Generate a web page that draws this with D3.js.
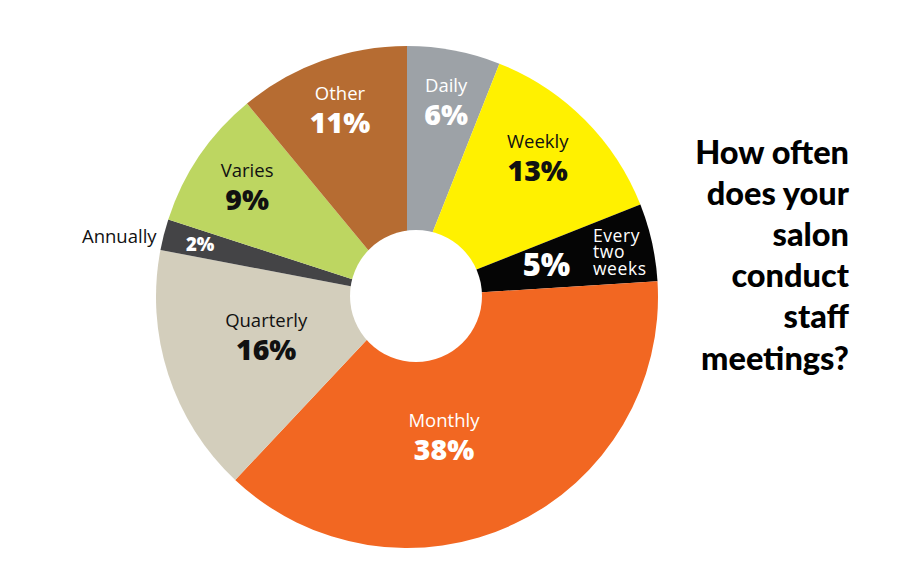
<!DOCTYPE html>
<html>
<head>
<meta charset="utf-8">
<script src="https://cdn.jsdelivr.net/npm/d3@7"></script>
<style>
  html, body { margin: 0; padding: 0; background: #fff; }
  svg { display: block; }
</style>
</head>
<body>
<svg id="chart" width="920" height="582"></svg>
<script>
// ---- data ----
const categories = ["Daily", "Weekly", "Every two weeks", "Monthly", "Quarterly", "Annually", "Varies", "Other"];
const values = [6, 13, 5, 38, 16, 2, 9, 11];
const colors = ["#9da2a7", "#fff100", "#050505", "#f26722", "#d3cebc", "#444446", "#bdd661", "#b66c32"];
const nameColors = ["#ffffff", "#111111", "#ffffff", "#ffffff", "#111111", "#111111", "#111111", "#ffffff"];
const pctColors = ["#ffffff", "#111111", "#ffffff", "#ffffff", "#111111", "#ffffff", "#111111", "#ffffff"];
const titleLines = ["How often", "does your", "salon", "conduct", "staff", "meetings?"];

// ---- layout ----
const W = 920, H = 582;
const cx = 407, cy = 297, R = 251;
const hole = { x: 416, y: 296, r: 66 };
// label placement: polar radius and angle offset (deg) from slice mid-angle
const labelLayout = {
  "Daily":           { r: 209, da: 0 },
  "Weekly":          { r: 198, da: -3.7 },
  "Every two weeks": { r: 141, da: 4 },
  "Monthly":         { r: 135, da: 9.3 },
  "Quarterly":       { r: 144, da: 6 },
  "Annually":        { r: 212, da: -1.8 },
  "Varies":          { r: 200, da: 2.7 },
  "Other":           { r: 208, da: 1 }
};

const data = categories.map((c, i) => ({ name: c, value: values[i], color: colors[i], nc: nameColors[i], pc: pctColors[i] }));

const svg = d3.select("#chart");
const g = svg.append("g").attr("transform", `translate(${cx},${cy})`);

const pie = d3.pie().value(d => d.value).sort(null).startAngle(0).endAngle(2 * Math.PI);
const arcs = pie(data);
const arc = d3.arc().innerRadius(0).outerRadius(R);

g.selectAll("path.slice")
  .data(arcs)
  .join("path")
  .attr("class", "slice")
  .attr("d", arc)
  .attr("fill", d => d.data.color);

svg.append("circle")
  .attr("cx", hole.x).attr("cy", hole.y).attr("r", hole.r)
  .attr("fill", "#fff");

const nameFont = "'Open Sans', 'DejaVu Sans', sans-serif";
const pctFont = "'Open Sans', 'DejaVu Sans', sans-serif";

function polar(a, r) {
  return [Math.sin(a) * r, -Math.cos(a) * r];
}

arcs.forEach(d => {
  const L = labelLayout[d.data.name];
  const mid = (d.startAngle + d.endAngle) / 2 + L.da * Math.PI / 180;
  const [x, y] = polar(mid, L.r);
  const pctText = d.data.value + "%";
  if (d.data.name === "Every two weeks") {
    g.append("text").attr("x", x).attr("y", y)
      .attr("text-anchor", "middle")
      .attr("font-family", pctFont).attr("font-weight", 800).attr("font-size", 31)
      .attr("fill", d.data.pc).text(pctText);
    const t = g.append("text")
      .attr("font-family", nameFont).attr("font-size", 17.5).attr("letter-spacing", 0.6)
      .attr("fill", d.data.nc);
    ["Every", "two", "weeks"].forEach((w, k) => {
      t.append("tspan").attr("x", x + 46.5).attr("y", y - 34 + k * 16.3).text(w);
    });
  } else if (d.data.name === "Annually") {
    g.append("text").attr("x", x).attr("y", y)
      .attr("text-anchor", "middle")
      .attr("font-family", pctFont).attr("font-weight", 800).attr("font-size", 18.5)
      .attr("fill", d.data.pc).text(pctText);
    g.append("text").attr("x", x - 43.5).attr("y", y - 7.5)
      .attr("text-anchor", "end")
      .attr("font-family", nameFont).attr("font-size", 18.5).attr("fill", d.data.nc)
      .text(d.data.name);
  } else {
    g.append("text").attr("x", x).attr("y", y)
      .attr("text-anchor", "middle")
      .attr("font-family", nameFont).attr("font-size", 18.5).attr("fill", d.data.nc)
      .text(d.data.name);
    g.append("text").attr("x", x).attr("y", y + 33)
      .attr("text-anchor", "middle")
      .attr("font-family", pctFont).attr("font-weight", 800).attr("font-size", 28.5)
      .attr("fill", d.data.pc).text(pctText);
  }
});

// ---- title ----
const title = svg.append("text")
  .attr("text-anchor", "end")
  .attr("font-family", "Lato, 'Open Sans', sans-serif")
  .attr("font-weight", 900)
  .attr("font-size", 32.5)
  .attr("fill", "#000");
titleLines.forEach((line, i) => {
  title.append("tspan").attr("x", 849).attr("y", 163.5 + i * 41.2).text(line);
});
</script>
</body>
</html>
